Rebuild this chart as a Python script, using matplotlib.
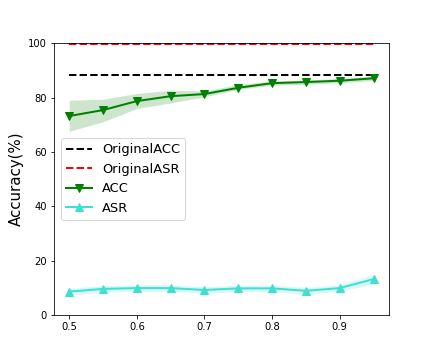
import matplotlib
matplotlib.use("Agg")
import matplotlib.pyplot as plt
import numpy as np

x = [0.5, 0.55, 0.6, 0.65, 0.7, 0.75, 0.8, 0.85, 0.9, 0.95]
acc = [73.2, 75.4, 78.7, 80.5, 81.3, 83.6, 85.3, 85.7, 86.2, 87.1]
acc_lo = [67.6, 71.1, 76.0, 78.0, 80.3, 83.0, 84.5, 84.9, 85.4, 86.3]
acc_hi = [79.0, 79.4, 81.5, 82.7, 82.4, 84.8, 86.1, 86.5, 87.0, 87.9]
asr = [8.6, 9.6, 9.9, 9.9, 9.2, 9.8, 9.8, 8.9, 9.9, 13.2]
asr_lo = [7.4, 8.4, 8.7, 8.7, 8.0, 8.6, 8.6, 7.7, 8.7, 11.4]
asr_hi = [9.8, 10.8, 11.1, 11.1, 10.4, 11.0, 11.0, 10.1, 11.1, 15.0]
orig_acc = 88.2
orig_asr = 99.8

fig, ax = plt.subplots(figsize=(6, 5), dpi=72)
fig.subplots_adjust(left=0.125, right=0.9, top=0.88, bottom=0.125)

ax.plot([x[0], x[-1]], [orig_acc, orig_acc], 'k--', lw=2, label='OriginalACC')
ax.plot([x[0], x[-1]], [orig_asr, orig_asr], 'r--', lw=2, label='OriginalASR')
ax.plot(x, acc, color='green', marker='v', markersize=8, lw=2, label='ACC')
ax.fill_between(x, acc_lo, acc_hi, color='green', alpha=0.2, lw=0)
ax.plot(x, asr, color='turquoise', marker='^', markersize=8, lw=2, label='ASR')
ax.fill_between(x, asr_lo, asr_hi, color='turquoise', alpha=0.2, lw=0)

ax.set_ylim(0, 100)
ax.set_xticks([0.5, 0.6, 0.7, 0.8, 0.9])
ax.set_ylabel('Accuracy(%)', fontsize=15)
ax.legend(loc='center left', fontsize=13)

fig.savefig('out.png')
